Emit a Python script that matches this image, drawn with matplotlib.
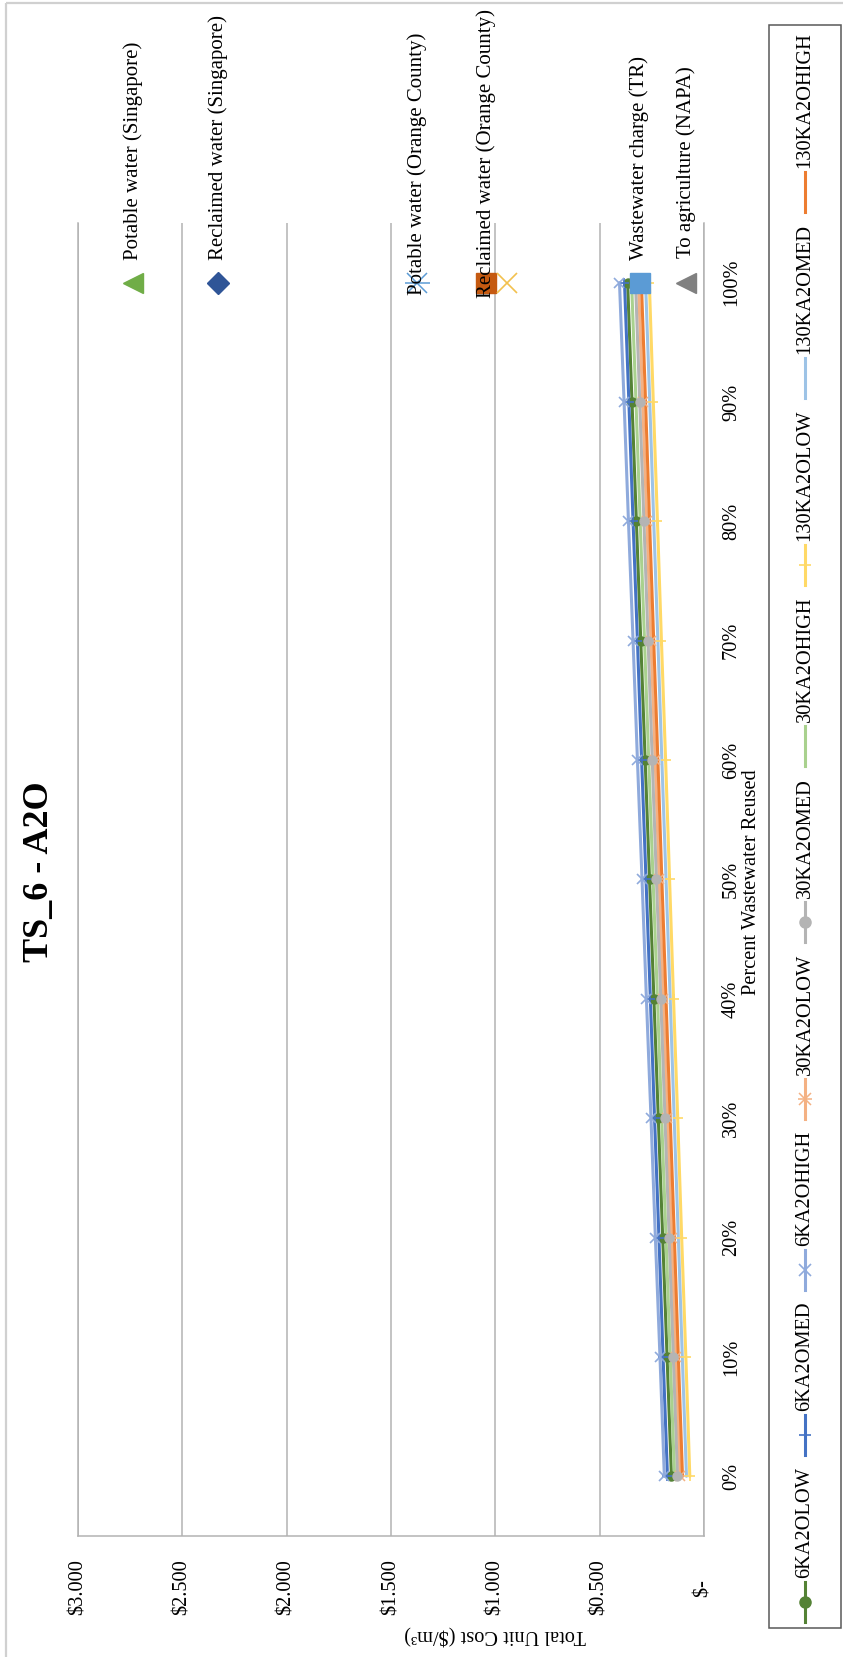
import matplotlib
matplotlib.use("Agg")
import matplotlib.pyplot as plt
from matplotlib.patches import Rectangle

plt.rcParams["font.family"] = ["Liberation Serif", "DejaVu Serif"]

W, H = 843, 1657

# Share of wastewater reused (category axis).
reuse_labels = ["0%", "10%", "20%", "30%", "40%", "50%", "60%", "70%", "80%", "90%", "100%"]

# Total unit cost in $/m3 for each plant size / cost scenario.
cost_6k_low = [0.156, 0.177, 0.198, 0.219, 0.240, 0.261, 0.282, 0.303, 0.324, 0.345, 0.366]
cost_6k_med = [0.175, 0.196, 0.216, 0.237, 0.257, 0.278, 0.299, 0.319, 0.340, 0.360, 0.381]
cost_6k_high = [0.190, 0.211, 0.233, 0.254, 0.276, 0.297, 0.319, 0.340, 0.362, 0.383, 0.405]
cost_30k_low = [0.115, 0.135, 0.155, 0.175, 0.195, 0.215, 0.234, 0.254, 0.274, 0.294, 0.314]
cost_30k_med = [0.127, 0.147, 0.167, 0.187, 0.207, 0.228, 0.248, 0.268, 0.288, 0.308, 0.328]
cost_30k_high = [0.141, 0.162, 0.182, 0.203, 0.223, 0.244, 0.265, 0.285, 0.306, 0.326, 0.347]
cost_130k_low = [0.068, 0.087, 0.107, 0.126, 0.146, 0.165, 0.184, 0.204, 0.223, 0.243, 0.262]
cost_130k_med = [0.084, 0.104, 0.123, 0.143, 0.162, 0.182, 0.202, 0.221, 0.241, 0.260, 0.280]
cost_130k_high = [0.103, 0.123, 0.142, 0.162, 0.182, 0.202, 0.221, 0.241, 0.261, 0.280, 0.300]

series_names = ["6KA2OLOW", "6KA2OMED", "6KA2OHIGH",
                "30KA2OLOW", "30KA2OMED", "30KA2OHIGH",
                "130KA2OLOW", "130KA2OMED", "130KA2OHIGH"]
series_values = [cost_6k_low, cost_6k_med, cost_6k_high,
                 cost_30k_low, cost_30k_med, cost_30k_high,
                 cost_130k_low, cost_130k_med, cost_130k_high]

# Benchmark water prices, plotted at the 100% point.
ref_names = ["Potable water (Singapore)", "Reclaimed water (Singapore)",
             "Potable water (Orange County)", "Reclaimed water (Orange County)",
             "", "Wastewater charge (TR)", "To agriculture (NAPA)"]
ref_costs = [2.737, 2.330, 1.377, 1.046, 0.946, 0.309, 0.084]

cost_ticks = [0.0, 0.5, 1.0, 1.5, 2.0, 2.5, 3.0]
cost_tick_labels = ["$-    ", "$0.500", "$1.000", "$1.500", "$2.000", "$2.500", "$3.000"]

# colour, marker for each series
line_style = {
    "6KA2OLOW": ("#548235", "o"),
    "6KA2OMED": ("#4472c4", "+"),
    "6KA2OHIGH": ("#8faadc", "x"),
    "30KA2OLOW": ("#f4b183", "star"),
    "30KA2OMED": ("#b4b4b4", "o"),
    "30KA2OHIGH": ("#a9d18e", None),
    "130KA2OLOW": ("#ffd966", "+"),
    "130KA2OMED": ("#9dc3e6", None),
    "130KA2OHIGH": ("#ed7d31", None),
}

# colour, marker, size, label offset (px) for the benchmark points
ref_style = [
    ("#70ad47", "<", 15, 23),
    ("#2f5597", "D", 11, 23),
    ("#5b9bd5", "star", 15, -12),
    ("#c55a11", "s", 14, -15),
    ("#f2c14e", "x", 15, 0),
    ("#5b9bd5", "s", 14, 23),
    ("#808080", "<", 15, 25),
]


def put_marker(axis, xs, ys, color, kind, size, zorder=3):
    # the Excel "star" marker turned on its side: an x with a bar through it
    if kind is None:
        return
    if kind == "star":
        axis.plot(xs, ys, ls="none", marker="x", ms=size, mew=1.1, color=color, zorder=zorder)
        axis.plot(xs, ys, ls="none", marker="_", ms=size * 1.2, mew=1.1, color=color, zorder=zorder)
    elif kind in ("+", "x"):
        axis.plot(xs, ys, ls="none", marker=kind, ms=size, mew=1.2, color=color, zorder=zorder)
    else:
        axis.plot(xs, ys, ls="none", marker=kind, ms=size, mfc=color, mec=color, color=color, zorder=zorder)


fig = plt.figure(figsize=(W / 100, H / 100), dpi=100)
ax = fig.add_axes([78 / W, 1 - 1536 / H, (704 - 78) / W, (1536 - 223) / H])

pos = list(range(len(reuse_labels)))
for name, vals in zip(series_names, series_values):
    color, mk = line_style[name]
    ax.plot(vals, pos, color=color, lw=2.2, solid_capstyle="round", zorder=2)
    put_marker(ax, vals, pos, color, mk, 6.5)

for name, cost, (color, mk, size, dy) in zip(ref_names, ref_costs, ref_style):
    put_marker(ax, [cost], [pos[-1]], color, mk, size, zorder=5)
    if name:
        ax.annotate(name, (cost, pos[-1]), xytext=(0, dy), textcoords="offset pixels",
                    rotation=90, ha="center", va="bottom", fontsize=15, zorder=6)

ax.set_xlim(3.0, 0.0)
ax.set_ylim(-0.5, 10.5)
ax.set_xticks(cost_ticks)
ax.set_xticklabels(cost_tick_labels, rotation=90, fontsize=14.7)
ax.tick_params(axis="x", length=0, pad=17)
ax.grid(axis="x", color="#b3b3b3", lw=1.1)
ax.set_axisbelow(True)

ax.yaxis.tick_right()
ax.set_yticks(pos)
ax.set_yticklabels(reuse_labels, rotation=90, va="center", fontsize=14.7)
ax.tick_params(axis="y", length=0, pad=13)

ax.spines["top"].set_visible(False)
for side in ("left", "right", "bottom"):
    ax.spines[side].set_color("#b3b3b3")
    ax.spines[side].set_linewidth(1.1)

# overlay in pixel coordinates for title, axis titles, legend and frame
ov = fig.add_axes([0, 0, 1, 1])
ov.set_xlim(0, W)
ov.set_ylim(H, 0)
ov.axis("off")
ov.patch.set_alpha(0)

ov.add_patch(Rectangle((6, 3), W + 20, H + 20, fill=False, ec="#d0d0d0", lw=1.6))

ov.text(40, 872, "TS_6 - A2O", rotation=90, ha="center", va="center",
        fontsize=26, fontweight="bold")
ov.text(752, 882, "Percent Wastewater Reused", rotation=90, ha="center", va="center",
        fontsize=14.7)
ov.text(495, 1635, "Total Unit Cost ($/m³)", rotation=180, ha="center", va="center",
        fontsize=14.7)

# legend drawn by hand so it can run along the side
ov.add_patch(Rectangle((769, 25), 72, 1603, fill=False, ec="#595959", lw=1.1))
renderer = fig.canvas.get_renderer()
leg_x = 805
legend_texts = [ov.text(leg_x, 0, n, rotation=90, ha="center", va="bottom", fontsize=14.7)
                for n in series_names]
lengths = [t.get_window_extent(renderer).height for t in legend_texts]
handle_len, text_gap = 40, 4
leg_bottom, leg_top = 1622, 32
spare = (leg_bottom - leg_top) - sum(handle_len + text_gap + L for L in lengths)
entry_gap = spare / (len(lengths) - 1)
y = leg_bottom
for name, t, L in zip(series_names, legend_texts, lengths):
    color, mk = line_style[name]
    yc = y - handle_len / 2
    ov.plot([leg_x, leg_x], [y, y - handle_len], color=color, lw=2.2)
    put_marker(ov, [leg_x], [yc], color, mk, 8)
    t.set_y(y - handle_len - text_gap)
    y = y - handle_len - text_gap - L - entry_gap

fig.savefig("out.png", dpi=100)
